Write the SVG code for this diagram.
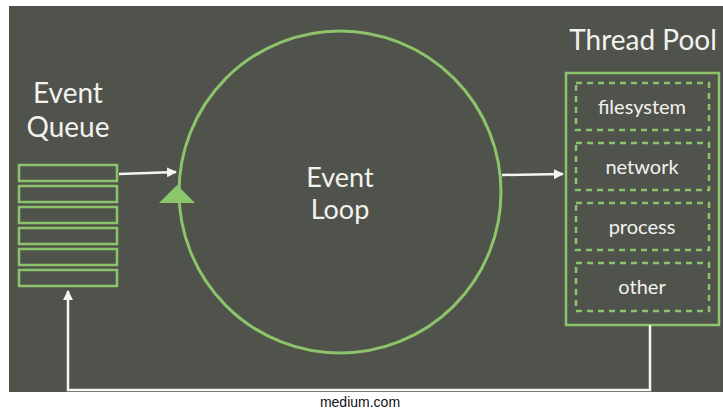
<svg xmlns="http://www.w3.org/2000/svg" width="723" height="412" viewBox="0 0 723 412">
<style>
.t{font-family:Lato,"Open Sans","DejaVu Sans",sans-serif;fill:#f2f2ee;text-anchor:middle}
.big{font-size:28px}
.sm{font-size:20px}
.q{fill:none;stroke:#8cc46c;stroke-width:2.5}
.d{fill:none;stroke:#8cc46c;stroke-width:2.5;stroke-dasharray:6 5}
.w{fill:none;stroke:#f4f4f2;stroke-width:2.5}
</style>
<defs>
<marker id="ah" viewBox="0 0 10 10" refX="9" refY="5" markerWidth="4" markerHeight="4" orient="auto" markerUnits="strokeWidth">
<path d="M0,0 L10,5 L0,10 z" fill="#f4f4f2"/>
</marker>
</defs>
<rect x="0" y="0" width="723" height="412" fill="#ffffff"/>
<rect x="9" y="6" width="714" height="386" fill="#50534b"/>
<g id="event-queue">
<text class="t big" x="68" y="103">Event</text>
<text class="t big" x="68" y="137">Queue</text>
<rect class="q" x="19" y="165" width="98" height="16"/>
<rect class="q" x="19" y="186" width="98" height="16"/>
<rect class="q" x="19" y="207" width="98" height="16"/>
<rect class="q" x="19" y="228" width="98" height="16"/>
<rect class="q" x="19" y="249" width="98" height="16"/>
<rect class="q" x="19" y="270" width="98" height="16"/>
</g>
<g id="event-loop">
<circle cx="340" cy="192" r="161" fill="none" stroke="#8cc46c" stroke-width="3"/>
<polygon points="177,185 195,203 159,203" fill="#8cc66b"/>
<text class="t" x="340" y="187" font-size="27">Event</text>
<text class="t" x="340" y="219" font-size="27">Loop</text>
</g>
<g id="thread-pool">
<text class="t big" x="643" y="50">Thread Pool</text>
<rect class="q" x="566" y="73" width="153" height="252"/>
<rect class="d" x="576" y="83" width="133" height="47"/>
<text class="t sm" x="642" y="114">filesystem</text>
<rect class="d" x="576" y="143" width="133" height="47"/>
<text class="t sm" x="642" y="174">network</text>
<rect class="d" x="576" y="203" width="133" height="47"/>
<text class="t sm" x="642" y="234">process</text>
<rect class="d" x="576" y="263" width="133" height="48"/>
<text class="t sm" x="642" y="294">other</text>
</g>
<g id="connectors">
<line class="w" x1="119" y1="174" x2="176" y2="172" marker-end="url(#ah)"/>
<line class="w" x1="502" y1="175" x2="563" y2="174" marker-end="url(#ah)"/>
<polyline class="w" points="650,325 650,390 68,390 68,291" marker-end="url(#ah)"/>
</g>
<text x="360" y="407" font-family="Liberation Sans,Arial,sans-serif" font-size="14" fill="#111" text-anchor="middle">medium.com</text>
</svg>
